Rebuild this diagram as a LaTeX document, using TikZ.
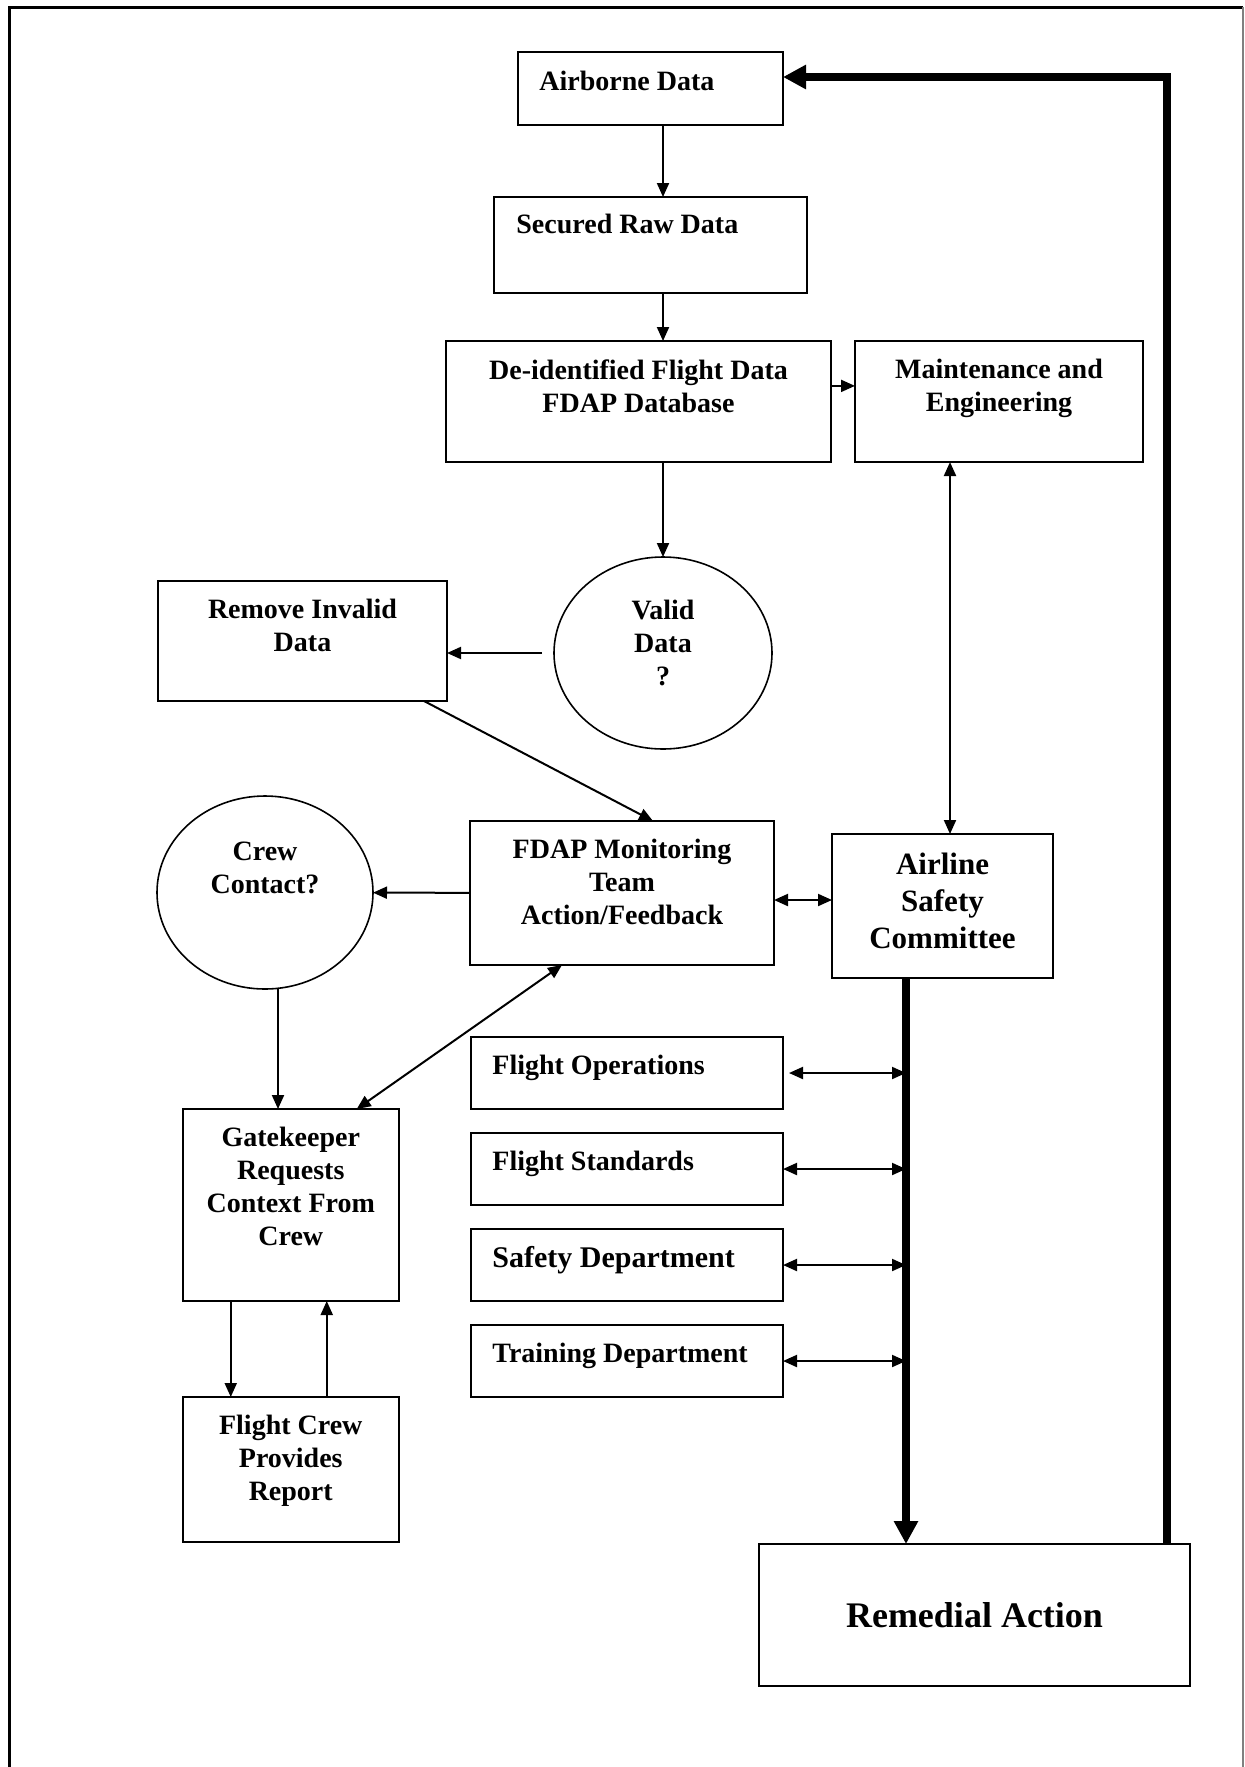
\documentclass[tikz,border=0pt]{standalone}
\usepackage{fontspec}
\setmainfont{Liberation Serif}
\usetikzlibrary{arrows.meta,positioning,shapes.geometric}
\tikzset{
  box/.style = {draw, rectangle, line width=1pt, inner sep=0pt,
    outer sep=0pt},% text box
  oval/.style = {draw, ellipse, line width=0.8pt, inner sep=0pt,
    outer sep=0pt},% question
  txt/.style = {align=center, inner sep=0pt,
    font=\fontsize{14}{16.5}\selectfont\bfseries},
  ltxt/.style = {txt, align=left},% text set from the left edge
  flow/.style = {->, line width=1pt},
  link/.style = {<->, line width=1pt},% both ways
  spine/.style = {-{Triangle[length=11.5pt,width=11.5pt]},
    line width=3.8pt}% heavy feedback line
}

\begin{document}
\begin{tikzpicture}[x=0.5pt, y=-0.5pt, >={Triangle[length=7pt,width=6pt]}]
\useasboundingbox (0,0) rectangle (1244,1767);
\draw[line width=1.5pt] (9,1767) -- (9,7) -- (1243,7);
\draw[gray, line width=0.8pt] (1243,7) -- (1243,1767);

% data chain
\node[box, minimum width=132.5pt, minimum height=36.5pt] (airborne) at (650.5,88.5) {};
\node[ltxt, below right=9.5pt and 10.5pt of airborne.north west] (airborneT) {Airborne Data};
\node[box, minimum width=156.5pt, minimum height=48pt, below=36pt of airborne] (secured) {};
\node[ltxt, below right=8.5pt and 11pt of secured.north west] (securedT) {Secured Raw Data};
\node[box, minimum width=192.5pt, minimum height=60.5pt] (deid) at (638.5,401.5) {};
\node[txt, below=9pt of deid.north] (deidT) {De-identified Flight Data\\FDAP Database};
\node[box, minimum width=144pt, minimum height=60.5pt, right=12pt of deid] (maint) {};
\node[txt, below=9pt of maint.north] (maintT) {Maintenance and\\Engineering};
\node[oval, minimum width=109pt, minimum height=96pt] (valid) at (663,653) {};
\node[txt, below=21.5pt of valid.north] (validT) {Valid\\Data\\?};
\node[box, minimum width=144.5pt, minimum height=60pt] (remove) at (302.5,641) {};
\node[txt, below=9pt of remove.north] (removeT) {Remove Invalid\\Data};

% monitoring team
\node[box, minimum width=152pt, minimum height=72pt] (fdap) at (622,893) {};
\node[txt, below=9pt of fdap.north] (fdapT) {FDAP Monitoring\\Team\\Action/Feedback};
\node[oval, minimum width=108pt, minimum height=96.5pt] (crew) at (265,892.5) {};
\node[txt, below=23pt of crew.north] (crewT) {Crew\\Contact?};
\node[box, minimum width=110.5pt, minimum height=72pt] (airline) at (942.5,906) {};
\node[txt, font=\fontsize{15.5}{18.5}\selectfont\bfseries,
  below=9.5pt of airline.north] (airlineT) {Airline\\Safety\\Committee};
\node[box, minimum width=107.75pt, minimum height=96pt] (gate) at (290.75,1205) {};
\node[txt, below=9pt of gate.north] (gateT) {Gatekeeper\\Requests\\Context From\\Crew};
\node[box, minimum width=107.75pt, minimum height=72.5pt, below=48pt of gate] (crewrep) {};
\node[txt, below=9pt of crewrep.north] (crewrepT) {Flight Crew\\Provides\\Report};

% departments
\node[box, minimum width=156pt, minimum height=36pt] (fops) at (627,1073) {};
\node[box, minimum width=156pt, minimum height=36pt, below=12pt of fops] (fstd) {};
\node[box, minimum width=156pt, minimum height=36pt, below=12pt of fstd] (safety) {};
\node[box, minimum width=156pt, minimum height=36pt, below=12pt of safety] (training) {};
\node[ltxt, below right=9pt and 10.5pt of fops.north west] (fopsT) {Flight Operations};
\node[ltxt, below right=9pt and 10.5pt of fstd.north west] (fstdT) {Flight Standards};
\node[ltxt, font=\fontsize{15}{17}\selectfont\bfseries,
  below right=8.5pt and 10.5pt of safety.north west] (safetyT) {Safety Department};
\node[ltxt, below right=9pt and 10.5pt of training.north west] (trainingT) {Training Department};
\node[box, minimum width=215.5pt, minimum height=71pt,
  font=\fontsize{18}{21}\selectfont\bfseries] (remedial) at (974.5,1615) {Remedial Action};

\coordinate (mcol) at (950,0);
\coordinate (spine) at (906,0);
\coordinate (back) at (1167,0);

\draw[flow] (airborne.south -| valid) -- (secured.north -| valid);
\draw[flow] (secured.south -| valid) -- (deid.north -| valid);
\draw[flow] (deid.south -| valid) -- (valid);
\draw[flow] (deid.east |- deidT) -- (maint.west |- deidT);
\draw[flow] ([xshift=-6pt]valid.west) -- (remove.east |- valid.west);
\draw[flow] ([xshift=60.75pt]remove.south) -- ([xshift=15.5pt]fdap.north);
\draw[flow] (fdap) -- (crew);
\draw[link] ([yshift=-3.5pt]fdap.east) -- ([yshift=-3.5pt]fdap.east -| airline.west);
\draw[link] (maint.south -| mcol) -- (airline.north -| mcol);
\draw[link] ([xshift=-30pt]fdap.south) -- ([xshift=33pt]gate.north);
\draw[flow] ([xshift=6.5pt]crew.south) -- ([xshift=6.5pt]crew.south |- gate.north);
\draw[flow] ([xshift=-30pt]gate.south) -- ([xshift=-30pt]crewrep.north);
\draw[flow] ([xshift=18pt]crewrep.north) -- ([xshift=18pt]gate.south);
\draw[link] ([xshift=3pt]fops.east) -- (fops.east -| spine);
\draw[link] (fstd.east) -- (fstd.east -| spine);
\draw[link] (safety.east) -- (safety.east -| spine);
\draw[link] (training.east) -- (training.east -| spine);
\draw[spine] (airline.south -| spine) -- (remedial.north -| spine);
\draw[spine] (remedial.north -| back) |- ([yshift=5.75pt]airborne.east);
\end{tikzpicture}
\end{document}
